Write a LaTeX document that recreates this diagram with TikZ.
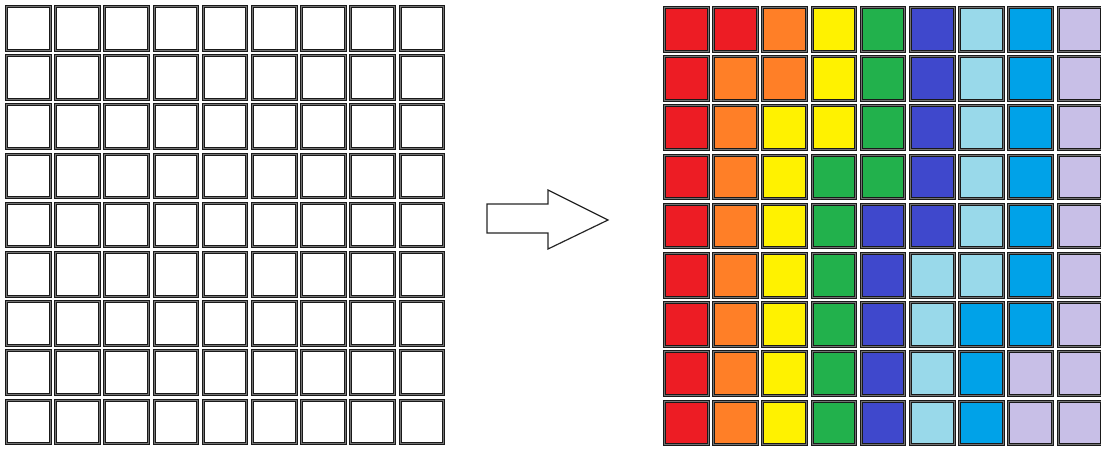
\documentclass[tikz,border=0pt]{standalone}
\definecolor{cR}{HTML}{ED1C24}
\definecolor{cO}{HTML}{FF7F27}
\definecolor{cY}{HTML}{FFF200}
\definecolor{cG}{HTML}{22B14C}
\definecolor{cB}{HTML}{3F48CC}
\definecolor{cL}{HTML}{99D9EA}
\definecolor{cA}{HTML}{00A2E8}
\definecolor{cV}{HTML}{C8BFE7}
\begin{document}
\begin{tikzpicture}[x=1pt,y=-1pt,
  cell/.style={draw=black!90, line width=1pt, double=black!55,
    double distance=0.9pt, minimum size=43.6pt, inner sep=0pt, outer sep=0pt},
  bigarrow/.style={draw=black!85, line width=1.2pt, fill=white, line join=miter}]
\useasboundingbox (0,0) rectangle (1101,448);
% empty grid
\foreach \j in {0,...,8}
  \foreach \i in {0,...,8}
    \node[cell, fill=white] (l-\i-\j) at (28.25+49.2*\i, 28.25+49.2*\j) {};
% coloured grid
\foreach \row [count=\j from 0] in {
    {R,R,O,Y,G,B,L,A,V},
    {R,O,O,Y,G,B,L,A,V},
    {R,O,Y,Y,G,B,L,A,V},
    {R,O,Y,G,G,B,L,A,V},
    {R,O,Y,G,B,B,L,A,V},
    {R,O,Y,G,B,L,L,A,V},
    {R,O,Y,G,B,L,A,A,V},
    {R,O,Y,G,B,L,A,V,V},
    {R,O,Y,G,B,L,A,V,V}}
  \foreach \c [count=\i from 0] in \row
    \node[cell, fill=c\c] (r-\i-\j) at (686.25+49.2*\i, 29.25+49.2*\j) {};
% arrow between the grids
\draw[bigarrow] (487,204) -- (548,204) -- (548,190) -- (608,220)
  -- (548,249) -- (548,233) -- (487,233) -- cycle;
\end{tikzpicture}
\end{document}
